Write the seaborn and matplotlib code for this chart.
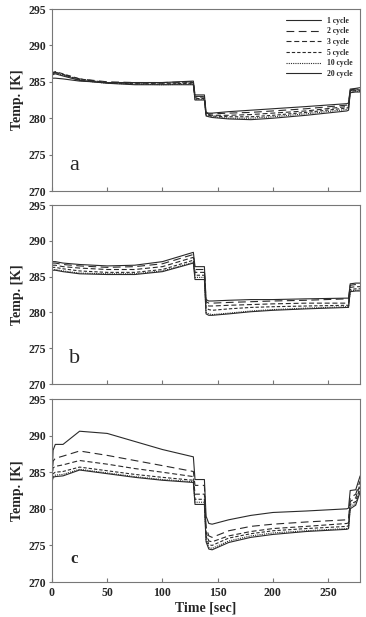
import numpy as np
import pandas as pd
import seaborn as sns
from matplotlib import pyplot as plt

sns.set_style("ticks")
plt.rcParams['font.family'] = ['Liberation Serif', 'DejaVu Serif']

cycles = ["1 cycle", "2 cycle", "3 cycle", "5 cycle", "10 cycle", "20 cycle"]
time = [0, 1, 3, 10, 25, 50, 75, 100, 128, 129.5, 138, 139.5, 142, 145,
        160, 180, 200, 230, 267, 268.5, 270, 275, 279]

temps_a = [
    [285.4, 285.5, 285.5, 285.4, 285.1, 284.9, 284.9, 284.9, 285.1, 283.2, 283.2, 280.8, 280.7, 280.7,
     280.9, 281.1, 281.3, 281.6, 282.0, 282.1, 284.0, 284.1, 284.2],
    [286.0, 286.2, 286.3, 286.0, 285.4, 285.0, 284.9, 284.9, 285.0, 283.0, 283.0, 280.7, 280.6, 280.6,
     280.7, 280.8, 281.0, 281.3, 281.8, 281.9, 283.9, 284.0, 284.0],
    [286.1, 286.3, 286.4, 286.1, 285.4, 284.9, 284.8, 284.8, 284.9, 282.9, 282.9, 280.6, 280.5, 280.4,
     280.4, 280.5, 280.7, 281.0, 281.6, 281.7, 283.8, 283.9, 283.9],
    [286.0, 286.2, 286.3, 286.0, 285.3, 284.9, 284.7, 284.7, 284.8, 282.7, 282.7, 280.5, 280.4, 280.3,
     280.2, 280.2, 280.4, 280.8, 281.4, 281.5, 283.7, 283.8, 283.8],
    [285.9, 286.1, 286.2, 285.9, 285.2, 284.8, 284.7, 284.6, 284.7, 282.6, 282.6, 280.4, 280.3, 280.2,
     280.0, 280.0, 280.2, 280.6, 281.2, 281.3, 283.6, 283.7, 283.7],
    [285.8, 286.0, 286.1, 285.8, 285.2, 284.8, 284.6, 284.6, 284.6, 282.5, 282.5, 280.3, 280.2, 280.1,
     279.9, 279.8, 280.0, 280.4, 281.0, 281.1, 283.5, 283.6, 283.6],
]

temps_b = [
    [287.1, 287.1, 287.1, 286.9, 286.7, 286.5, 286.6, 287.1, 288.4, 286.4, 286.4, 281.8, 281.6, 281.6,
     281.7, 281.8, 281.8, 281.9, 282.0, 282.0, 284.0, 284.1, 284.1],
    [286.9, 286.9, 286.9, 286.7, 286.5, 286.3, 286.4, 286.8, 288.1, 286.0, 286.0, 281.5, 281.3, 281.3,
     281.4, 281.5, 281.6, 281.7, 281.9, 281.9, 283.8, 283.9, 283.9],
    [286.6, 286.6, 286.6, 286.4, 286.2, 286.0, 286.0, 286.4, 287.7, 285.6, 285.6, 281.1, 280.9, 280.9,
     281.0, 281.1, 281.2, 281.3, 281.3, 281.3, 283.5, 283.6, 283.6],
    [286.3, 286.3, 286.3, 286.1, 285.8, 285.6, 285.6, 286.0, 287.3, 285.2, 285.2, 280.6, 280.4, 280.3,
     280.5, 280.7, 280.8, 280.9, 281.0, 281.0, 283.2, 283.3, 283.3],
    [286.0, 286.0, 286.0, 285.8, 285.5, 285.4, 285.4, 285.8, 287.0, 284.9, 284.9, 280.0, 279.8, 279.7,
     279.9, 280.2, 280.4, 280.6, 280.8, 280.8, 283.0, 283.1, 283.1],
    [285.9, 285.9, 285.9, 285.7, 285.4, 285.3, 285.3, 285.7, 286.9, 284.6, 284.6, 279.8, 279.6, 279.6,
     279.8, 280.1, 280.3, 280.5, 280.7, 280.7, 282.9, 283.0, 283.0],
]

temps_c = [
    [284.0, 288.0, 288.8, 288.8, 290.6, 290.3, 289.2, 288.1, 287.1, 284.0, 284.0, 279.0, 278.0, 277.9,
     278.5, 279.1, 279.5, 279.7, 280.0, 280.1, 282.5, 282.6, 284.5],
    [284.2, 286.5, 286.9, 287.2, 287.9, 287.3, 286.6, 285.9, 285.1, 283.2, 283.2, 277.5, 276.3, 276.1,
     277.0, 277.6, 277.9, 278.2, 278.5, 278.6, 281.5, 282.0, 283.8],
    [284.1, 285.6, 285.8, 286.0, 286.6, 286.1, 285.5, 285.0, 284.4, 282.0, 282.0, 276.8, 275.6, 275.5,
     276.3, 276.9, 277.3, 277.6, 278.0, 278.1, 281.0, 281.5, 283.4],
    [284.0, 284.8, 285.0, 285.1, 285.7, 285.2, 284.7, 284.3, 283.9, 281.3, 281.3, 276.3, 275.1, 275.0,
     276.0, 276.6, 277.0, 277.3, 277.6, 277.7, 280.6, 281.0, 283.0],
    [283.8, 284.4, 284.6, 284.7, 285.4, 284.9, 284.4, 284.0, 283.7, 280.9, 280.9, 275.8, 274.7, 274.6,
     275.6, 276.3, 276.7, 277.0, 277.3, 277.4, 280.3, 280.7, 282.6],
    [283.6, 284.3, 284.4, 284.5, 285.3, 284.8, 284.3, 283.9, 283.6, 280.6, 280.6, 275.5, 274.5, 274.4,
     275.4, 276.1, 276.5, 276.9, 277.2, 277.3, 280.0, 280.5, 282.3],
]

dashes = {"1 cycle": "", "2 cycle": (7, 4), "3 cycle": (4.5, 2.5),
          "5 cycle": (3, 1.8), "10 cycle": (1, 1), "20 cycle": ""}

fig = plt.figure(figsize=(3.66, 6.17), dpi=100)
boxes = [(0.142, 0.6904, 0.842, 0.295),
         (0.142, 0.3776, 0.842, 0.290),
         (0.142, 0.0567, 0.842, 0.2966)]
panels = [("a", temps_a), ("b", temps_b), ("c", temps_c)]

for i, (letter, temps) in enumerate(panels):
    ax = fig.add_axes(boxes[i])
    rows = []
    for lab, vals in zip(cycles, temps):
        for t, v in zip(time, vals):
            rows.append((t, v, lab))
    df = pd.DataFrame(rows, columns=["time", "temp", "cycle"])
    sns.lineplot(data=df, x="time", y="temp", style="cycle", dashes=dashes,
                 color="#2a2a2a", linewidth=0.8, sort=False, estimator=None,
                 legend=(i == 0), ax=ax)
    ax.set_xlim(0, 279)
    ax.set_ylim(270, 295)
    ax.set_yticks([270, 275, 280, 285, 290, 295])
    ax.set_xticks([0, 50, 100, 150, 200, 250])
    for s in ax.spines.values():
        s.set_color("#777777")
        s.set_linewidth(0.8)
    ax.tick_params(axis="x", direction="in", length=3, color="#777777")
    ax.tick_params(axis="y", direction="out", length=2, color="#777777", pad=2)
    for lbl in ax.get_yticklabels():
        lbl.set_fontweight("bold")
        lbl.set_fontsize(8.5)
    ax.set_ylabel("Temp. [K]", fontsize=10, fontweight="bold", labelpad=3)
    if i < 2:
        ax.set_xticklabels([])
        ax.set_xlabel("")
    else:
        for lbl in ax.get_xticklabels():
            lbl.set_fontweight("bold")
            lbl.set_fontsize(8.5)
        ax.set_xlabel("Time [sec]", fontsize=10, fontweight="bold", labelpad=2)
    if letter == "c":
        ax.text(20, 273.2, letter, fontsize=12, fontweight="bold", ha="center", va="center")
    else:
        ax.text(20, 273.5, letter, fontsize=16, ha="center", va="center")
    if i == 0:
        leg = ax.legend(loc="upper right", frameon=False,
                        handlelength=4.5, labelspacing=0.35, borderaxespad=0.6,
                        prop={"weight": "bold", "size": 5.5})

fig.savefig("out.png", dpi=100)
